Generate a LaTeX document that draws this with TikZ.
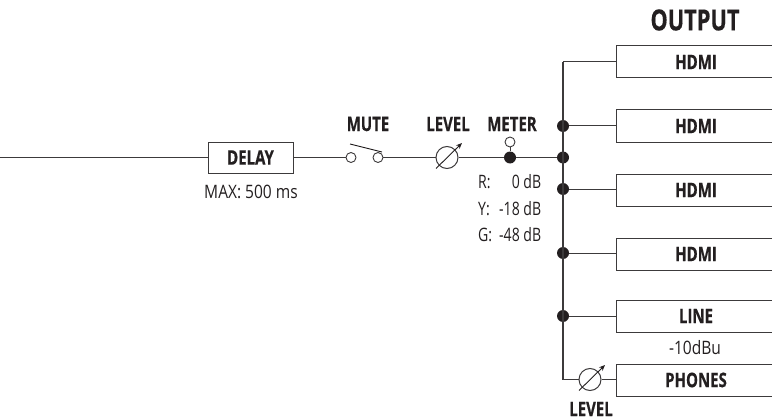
\documentclass[tikz,border=0pt]{standalone}
\usepackage{fontspec}
\setmainfont[FakeStretch=0.75,BoldFeatures={FakeBold=0.5}]{Open Sans}
\newfontfamily\plainfam[FakeStretch=0.84]{Open Sans}
\newfontfamily\meterfam[FakeStretch=0.76]{Open Sans}
\definecolor{ink}{HTML}{231F20}
\definecolor{wire}{HTML}{3C3A3B}
\usetikzlibrary{arrows.meta}
\tikzset{
  x=1pt,y=-1pt,
  wireline/.style={draw=wire,line width=1pt},
  outbox/.style={draw=wire,line width=1pt,fill=white,minimum width=160pt,minimum height=32pt,inner sep=0pt,font=\fontsize{20}{20}\selectfont\bfseries,text=ink},
  delaybox/.style={draw=wire,line width=1pt,fill=white,minimum width=85pt,minimum height=31pt,inner sep=0pt,font=\fontsize{20}{20}\selectfont\bfseries,text=ink},
  dot/.style={circle,fill=ink,draw=none,minimum size=12pt,inner sep=0pt},
  term/.style={circle,draw=wire,line width=.9pt,fill=white,minimum size=10pt,inner sep=0pt},
  knob/.style={circle,draw=wire,line width=1pt,fill=white,minimum size=22pt,inner sep=0pt},
  head/.style={font=\fontsize{20}{20}\selectfont\bfseries,text=ink,inner sep=0pt},
  big/.style={font=\fontsize{29}{29}\selectfont\bfseries,text=ink,inner sep=0pt},
  small/.style={font=\plainfam\fontsize{18.5}{19}\selectfont,text=ink,inner sep=0pt},
  meter/.style={font=\meterfam\fontsize{18.5}{19}\selectfont,text=ink,inner sep=0pt},
  pointer/.style={draw=ink,line width=.9pt,-{Stealth[length=6pt,width=5pt]}}
}
\begin{document}
\begin{tikzpicture}
\useasboundingbox (0,0) rectangle (772,420);
\clip (0,0) rectangle (772,420);
\node[big] (output) at (695,20) {OUTPUT};
\node[outbox] (h1) at (696,62) {HDMI};
\node[outbox] (h2) at (696,126) {HDMI};
\node[outbox] (h3) at (696,190) {HDMI};
\node[outbox] (h4) at (696,254) {HDMI};
\node[outbox] (line) at (696,316) {LINE};
\node[outbox] (phones) at (696,380) {PHONES};
\node[small] (dbu) at (695,348) {-10dBu};
\node[delaybox] (delay) at (250.5,157.5) {DELAY};
\node[small] (max) at (251,192) {MAX: 500 ms};
\coordinate (in) at (0,157.5);
\coordinate (bustop) at (563,62);
\coordinate (busbot) at (563,379.5);
\node[term] (sw1) at (351,157.5) {};
\node[term] (sw2) at (378,157.5) {};
\node[knob] (lev) at (447,157.5) {};
\node[dot] (mdot) at (510,157.5) {};
\node[term] (mterm) at (510,142) {};
\node[dot] (b1) at (563,126) {};
\node[dot] (b2) at (563,157.5) {};
\node[dot] (b3) at (563,189) {};
\node[dot] (b4) at (563,253) {};
\node[dot] (b5) at (563,316) {};
\node[knob] (lev2) at (590,379.5) {};
\node[head] (tmute) at (368,124) {MUTE};
\node[head] (tlev) at (448,124) {LEVEL};
\node[head] (tmeter) at (512,124) {METER};
\node[head] (tlev2) at (591,409) {LEVEL};
\node[meter,anchor=west] (r) at (478,182) {\makebox[63pt]{R:\hfill 0 dB}};
\node[meter,anchor=west] (y) at (478,209) {\makebox[63pt]{Y:\hfill -18 dB}};
\node[meter,anchor=west] (g) at (478,235) {\makebox[63pt]{G:\hfill -48 dB}};
\draw[wireline] (in) -- (delay.west);
\draw[wireline] (delay.east) -- (sw1.west);
\draw[wireline] (sw2.east) -- (lev.west);
\draw[wireline] (lev.east) -- (mdot.west);
\draw[wireline] (mdot) -- (b2);
\draw[wireline] (mdot) -- (mterm);
\draw[wireline] (bustop) -- (bustop -| h1.west);
\draw[wireline,line width=1.4pt] (bustop) -- (busbot);
\draw[wireline] (busbot) -- (lev2.west);
\draw[wireline] (lev2.east) -- (lev2.east -| phones.west);
\draw[wireline] (b1) -- (b1 -| h2.west);
\draw[wireline] (b3) -- (b3 -| h3.west);
\draw[wireline] (b4) -- (b4 -| h4.west);
\draw[wireline] (b5) -- (b5 -| line.west);
\draw[draw=ink,line width=.9pt] (350,144) -- (382,152);
\draw[pointer] (436,168.5) -- (462,143);
\draw[pointer] (579,390.5) -- (605,365);
\end{tikzpicture}
\end{document}
